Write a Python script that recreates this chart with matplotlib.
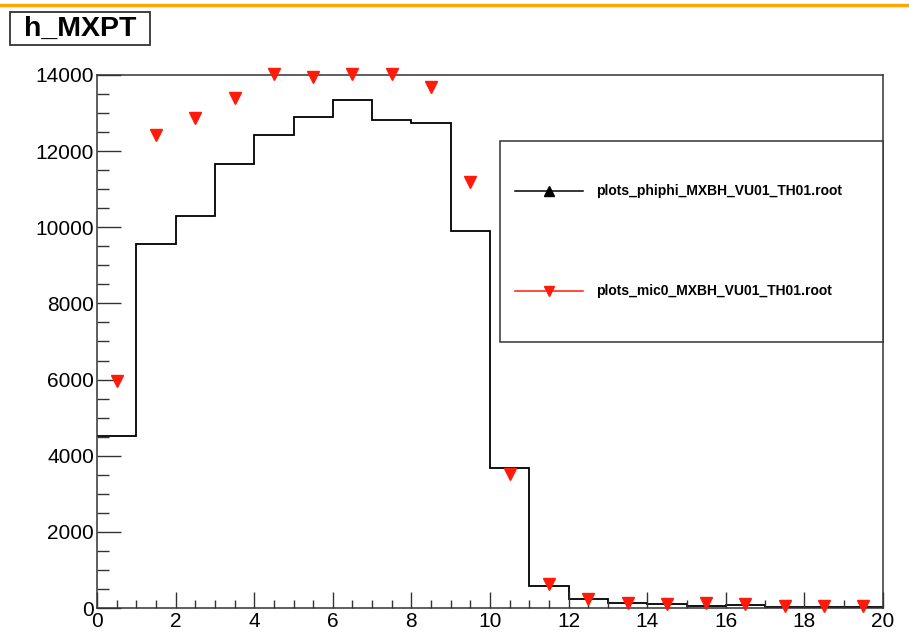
import numpy as np
import matplotlib.pyplot as plt
from matplotlib.patches import Rectangle
from matplotlib.lines import Line2D

plt.rcParams['font.family'] = ['Liberation Sans', 'DejaVu Sans']

# bin edges 0..20, width 1
edges = np.arange(0, 21, 1)
phiphi = [4520, 9560, 10300, 11660, 12420, 12900, 13340, 12820, 12740, 9900,
          3680, 580, 245, 140, 97, 60, 70, 30, 30, 25]
mic0 = [5960, 12420, 12870, 13400, 14030, 13950, 14030, 14030, 13690, 11190,
        3520, 630, 230, 130, 97, 140, 105, 50, 50, 60]
centers = edges[:-1] + 0.5

label_phiphi = 'plots_phiphi_MXBH_VU01_TH01.root'
label_mic0 = 'plots_mic0_MXBH_VU01_TH01.root'

fig = plt.figure(figsize=(9.09, 6.39), dpi=100)
ax = fig.add_axes([97/909, 1-608/639, 786/909, 533/639])

ax.stairs(phiphi, edges, color='black', lw=1.3, baseline=None)
ax.plot(centers, mic0, 'v', color='#ff1a0a', ms=8.5, mec='#ff1a0a', clip_on=False, zorder=5)

ax.set_xlim(0, 20)
ax.set_ylim(0, 14000)
ax.set_xticks(np.arange(0, 21, 2))
ax.set_xticks(np.arange(0, 20.01, 0.5), minor=True)
ax.set_yticks(np.arange(0, 14001, 2000))
ax.set_yticks(np.arange(0, 14001, 500), minor=True)
ax.tick_params(axis='both', which='both', direction='in', labelsize=15, width=1, color='#333333')
ax.tick_params(axis='y', which='major', length=17, pad=2)
ax.tick_params(axis='y', which='minor', length=8.6)
ax.tick_params(axis='x', which='major', length=11.5, pad=3)
ax.tick_params(axis='x', which='minor', length=5.8)
for s in ax.spines.values():
    s.set_linewidth(1.1)
    s.set_color('#333333')

# legend box (ROOT TLegend style)
ax.add_patch(Rectangle((0.5127, 0.499), 0.4873, 0.377, transform=ax.transAxes,
                       fill=True, facecolor='white', edgecolor='#333333', lw=1.1, zorder=6, clip_on=False))
for yy, col, mk, lab in [(0.782, 'black', '^', label_phiphi), (0.595, '#ff1a0a', 'v', label_mic0)]:
    ax.add_line(Line2D([0.532, 0.618], [yy, yy], color=col, lw=1.1, transform=ax.transAxes, zorder=7))
    ax.add_line(Line2D([0.575], [yy], marker=mk, color=col, ms=7, ls='none', transform=ax.transAxes, zorder=7))
    ax.text(0.635, yy, lab, transform=ax.transAxes, fontsize=10, fontweight='bold', va='center', ha='left', zorder=7)

# title box
fig.add_artist(Rectangle((10/909, 1-45/639), 140/909, 33/639, transform=fig.transFigure,
                         facecolor='white', edgecolor='#333333', lw=1.3))
fig.text(80/909, 1-29/639, 'h_MXPT', fontsize=20.5, fontweight='bold', ha='center', va='center')

# orange strip at top
fig.add_artist(Line2D([0, 1], [1-5/639, 1-5/639], color='#ffa500', lw=2.5, transform=fig.transFigure))

fig.savefig('out.png', dpi=100)
